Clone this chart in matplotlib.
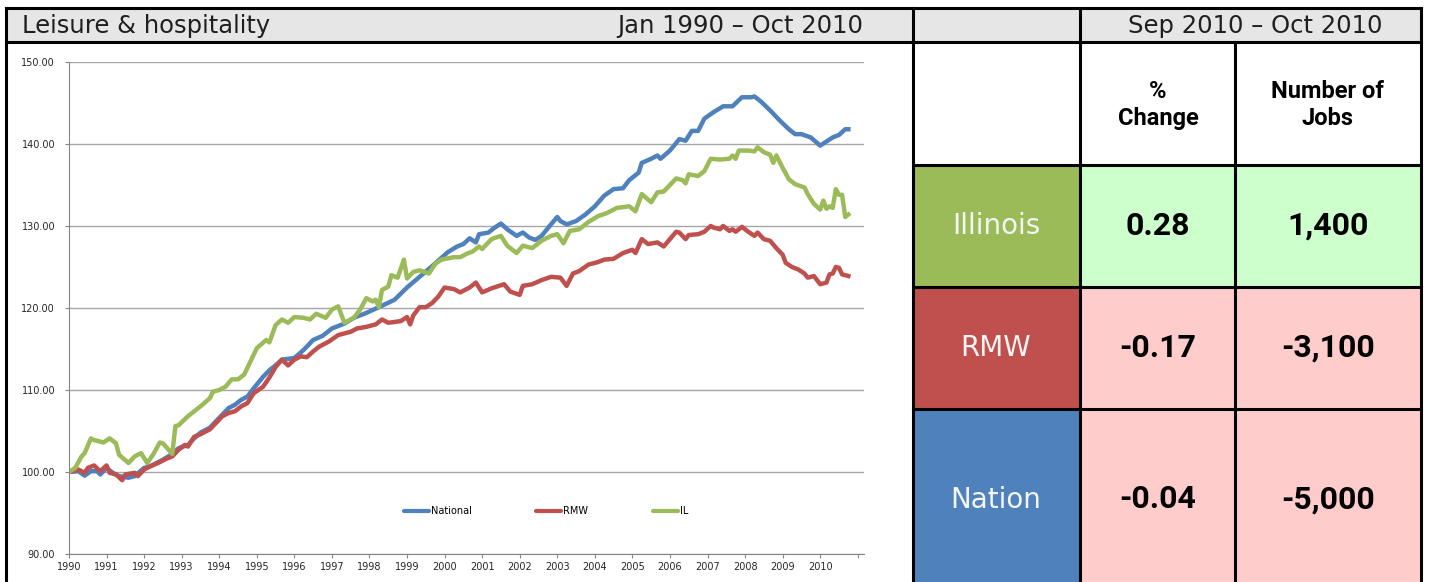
import matplotlib.pyplot as plt
from matplotlib.patches import Rectangle
from matplotlib.lines import Line2D

# ---- data (month index 0 = Jan 1990) ----
nat_month = [0, 3, 5, 7, 9, 10, 12, 14, 16, 19, 21, 24, 26, 30, 33, 35, 38, 40, 42, 45,
             47, 49, 51, 53, 55, 57, 59, 62, 64, 66, 68, 72, 75, 78, 81, 84, 88, 91, 95,
             99, 104, 108, 112, 116, 121, 124, 126, 128, 130, 131, 134, 136, 138, 140,
             143, 145, 147, 149, 151, 154, 156, 157, 159, 162, 165, 168, 171, 174, 177,
             179, 182, 183, 186, 188, 189, 192, 195, 197, 199, 201, 203, 206, 209, 212,
             215, 218, 219, 221, 224, 227, 230, 232, 234, 237, 240, 242, 244, 246, 248, 249]
nat_val = [100.0, 100.1, 99.55, 100.1, 100.1, 99.7, 100.5, 99.9, 99.5, 99.3, 99.5, 100.5,
           100.7, 101.5, 102.2, 102.9, 103.3, 104.1, 104.8, 105.4, 106.2, 107.0, 107.8,
           108.2, 108.8, 109.2, 110.2, 111.6, 112.4, 113.0, 113.7, 113.9, 114.9, 116.1,
           116.6, 117.5, 118.1, 118.8, 119.4, 120.1, 121.0, 122.5, 123.8, 125.1, 126.8,
           127.5, 127.8, 128.5, 128.0, 129.0, 129.2, 129.8, 130.3, 129.6, 128.8, 129.2,
           128.6, 128.3, 128.8, 130.2, 131.1, 130.6, 130.2, 130.6, 131.4, 132.4, 133.7,
           134.5, 134.6, 135.6, 136.5, 137.7, 138.2, 138.6, 138.2, 139.2, 140.6, 140.4,
           141.6, 141.6, 143.1, 143.9, 144.6, 144.6, 145.7, 145.7, 145.8, 145.2, 144.1,
           142.9, 141.8, 141.2, 141.2, 140.8, 139.8, 140.3, 140.8, 141.1, 141.8, 141.8]

rmw_month = [0, 3, 5, 6, 8, 10, 12, 13, 15, 17, 18, 21, 22, 24, 26, 29, 31, 33, 35, 37,
             38, 40, 42, 45, 47, 49, 51, 53, 55, 57, 59, 62, 64, 66, 68, 70, 72, 74, 76,
             78, 80, 83, 86, 90, 92, 95, 98, 100, 102, 106, 108, 109, 110, 112, 114, 116,
             118, 120, 123, 125, 128, 130, 132, 135, 139, 141, 144, 145, 148, 151, 154,
             157, 159, 161, 163, 166, 169, 171, 174, 177, 180, 181, 183, 185, 188, 190,
             192, 194, 195, 197, 198, 201, 203, 205, 206, 208, 209, 211, 212, 213, 215,
             217, 219, 220, 222, 224, 226, 228, 229, 231, 233, 235, 236, 238, 240, 242,
             243, 244, 245, 246, 247, 249]
rmw_val = [100.0, 100.3, 99.9, 100.5, 100.8, 100.1, 100.8, 99.9, 99.7, 99.0, 99.7, 99.9,
           99.5, 100.3, 100.7, 101.2, 101.6, 101.9, 102.7, 103.3, 103.1, 104.3, 104.6,
           105.2, 106.0, 106.8, 107.2, 107.4, 108.0, 108.4, 109.6, 110.4, 111.5, 112.8,
           113.7, 113.0, 113.7, 114.1, 114.0, 114.7, 115.3, 115.9, 116.7, 117.1, 117.5,
           117.7, 118.0, 118.6, 118.2, 118.4, 118.9, 118.0, 119.1, 120.1, 120.1, 120.6,
           121.4, 122.5, 122.3, 121.9, 122.5, 123.1, 121.9, 122.4, 122.9, 122.0, 121.6,
           122.7, 122.9, 123.4, 123.8, 123.7, 122.7, 124.2, 124.5, 125.3, 125.6, 125.9,
           126.0, 126.7, 127.1, 126.7, 128.4, 127.8, 128.0, 127.5, 128.4, 129.3, 129.2,
           128.4, 128.9, 129.0, 129.3, 130.0, 129.8, 129.6, 130.0, 129.4, 129.6, 129.3,
           129.9, 129.3, 128.8, 129.2, 128.4, 128.2, 127.3, 126.5, 125.5, 125.0, 124.7,
           124.2, 123.7, 123.9, 122.9, 123.1, 124.1, 124.2, 125.0, 124.9, 124.1, 123.9]

il_month = [0, 2, 4, 5, 7, 8, 11, 13, 15, 16, 19, 21, 23, 25, 27, 29, 30, 33, 34, 35, 38,
            40, 42, 45, 46, 48, 50, 52, 54, 56, 58, 60, 63, 64, 66, 68, 70, 72, 75, 77,
            79, 82, 84, 86, 88, 91, 93, 95, 97, 98, 99, 100, 102, 103, 105, 107, 108, 110,
            112, 115, 117, 119, 123, 125, 127, 129, 131, 132, 135, 138, 140, 143, 145,
            148, 151, 154, 156, 158, 160, 163, 166, 169, 172, 175, 179, 181, 183, 186,
            188, 190, 192, 194, 196, 197, 198, 201, 203, 205, 208, 211, 212, 213, 214,
            217, 219, 220, 222, 224, 225, 226, 228, 230, 232, 235, 236, 238, 240, 241,
            242, 243, 244, 245, 246, 247, 248, 249]
il_val = [100.0, 100.5, 101.9, 102.3, 104.1, 103.9, 103.6, 104.1, 103.5, 102.1, 101.1,
          101.9, 102.3, 101.1, 102.2, 103.6, 103.5, 102.2, 105.6, 105.7, 106.8, 107.4,
          108.0, 109.0, 109.8, 110.0, 110.4, 111.3, 111.3, 111.9, 113.5, 115.1, 116.1,
          115.8, 117.9, 118.6, 118.2, 118.9, 118.8, 118.6, 119.3, 118.8, 119.8, 120.2,
          118.2, 118.8, 119.8, 121.2, 120.8, 121.0, 120.1, 122.2, 122.6, 124.0, 123.7,
          125.9, 123.6, 124.4, 124.6, 124.2, 125.4, 125.9, 126.2, 126.2, 126.6, 126.9,
          127.5, 127.2, 128.4, 128.8, 127.6, 126.7, 127.6, 127.3, 128.2, 128.8, 129.0,
          127.9, 129.4, 129.6, 130.5, 131.2, 131.6, 132.2, 132.4, 131.8, 133.9, 132.9,
          134.1, 134.2, 135.0, 135.8, 135.6, 135.2, 136.3, 136.1, 136.7, 138.2, 138.1,
          138.2, 138.6, 138.2, 139.2, 139.2, 139.1, 139.6, 139.0, 138.7, 137.7, 138.6,
          137.1, 135.7, 135.1, 134.7, 133.9, 132.7, 132.0, 133.1, 132.1, 132.4, 132.2,
          134.5, 133.8, 133.8, 131.1, 131.4]

years = list(range(1990, 2011))
yticks = [90, 100, 110, 120, 130, 140, 150]

regions = ['Illinois', 'RMW', 'Nation']
pct_change = [0.28, -0.17, -0.04]
num_jobs = [1400, -3100, -5000]

title_left = 'Leisure & hospitality'
period_left = 'Jan 1990 \u2013 Oct 2010'
period_right = 'Sep 2010 \u2013 Oct 2010'

# ---- figure / background panel in pixel coords ----
W, H = 1429, 582
fig = plt.figure(figsize=(W / 100, H / 100), dpi=100)
bg = fig.add_axes([0, 0, 1, 1])
bg.set_xlim(0, W)
bg.set_ylim(H, 0)
bg.axis('off')


def box(x0, y0, x1, y1, color):
    bg.add_patch(Rectangle((x0, y0), x1 - x0, y1 - y0, facecolor=color, edgecolor='none'))


def hline(y, x0, x1):
    bg.plot([x0, x1], [y, y], color='black', lw=2.2, solid_capstyle='projecting')


def vline(x, y0, y1):
    bg.plot([x, x], [y0, y1], color='black', lw=2.2, solid_capstyle='projecting')


box(6, 8, 1421, 42, '#E6E6E6')

label_colors = ['#9BBB59', '#C0504D', '#4F81BD']
cell_colors = ['#CCFFCC', '#FFCCCC', '#FFCCCC']
row_y = [165, 287, 409, 590]
for i in range(3):
    box(913, row_y[i], 1080, row_y[i + 1], label_colors[i])
    box(1080, row_y[i], 1421, row_y[i + 1], cell_colors[i])

hline(8, 6, 1421)
hline(42, 6, 1421)
for y in row_y[:3]:
    hline(y, 913, 1421)
vline(6, 8, 590)
vline(913, 8, 590)
vline(1080, 8, 590)
vline(1235, 42, 590)
vline(1421, 8, 590)

hdr = dict(fontsize=17.5, color='#1F1F1F', family='DejaVu Sans', va='center')
bg.text(22, 26, title_left, ha='left', **hdr)
bg.text(863, 26, period_left, ha='right', **hdr)
bg.text(1255, 26, period_right, ha='center', **hdr)

narrow = ['Roboto', 'DejaVu Sans']
bg.text(1158, 105, '%\nChange', ha='center', va='center', fontsize=17,
        family=narrow, fontweight='bold', linespacing=1.2)
bg.text(1328, 105, 'Number of\nJobs', ha='center', va='center', fontsize=17,
        family=narrow, fontweight='bold', linespacing=1.2)

for i, name in enumerate(regions):
    yc = (row_y[i] + row_y[i + 1]) / 2
    bg.text(996, yc, name, ha='center', va='center', fontsize=20,
            color='#F5F5F5', family='DejaVu Sans')
    bg.text(1158, yc, '{:.2f}'.format(pct_change[i]), ha='center', va='center',
            fontsize=23, family=narrow, fontweight='bold')
    bg.text(1328, yc, '{:,}'.format(num_jobs[i]), ha='center', va='center',
            fontsize=23, family=narrow, fontweight='bold')

# ---- line chart ----
ax = fig.add_axes([69 / W, (H - 554) / H, (864 - 69) / W, (554 - 62) / H])
ax.plot(nat_month, nat_val, color='#4F81BD', lw=3.2, label='National', solid_joinstyle='round')
ax.plot(rmw_month, rmw_val, color='#C0504D', lw=3.2, label='RMW', solid_joinstyle='round')
ax.plot(il_month, il_val, color='#9BBB59', lw=3.2, label='IL', solid_joinstyle='round')

ax.set_xlim(0, 254)
ax.set_ylim(90, 150)
ax.set_xticks(list(range(0, 253, 12)))
ax.set_xticklabels([str(y) for y in years] + [''])
ax.set_yticks(yticks)
ax.set_yticklabels(['%.2f' % v for v in yticks])
ax.grid(axis='y', color='#A6A6A6', lw=1)
ax.set_axisbelow(True)
for s in ['top', 'right']:
    ax.spines[s].set_visible(False)
for s in ['left', 'bottom']:
    ax.spines[s].set_color('#868686')
ax.tick_params(axis='both', colors='#868686', length=3, labelsize=7, labelcolor='#262626')
ax.tick_params(axis='y', pad=7)
ax.tick_params(axis='x', pad=3)

handles = [Line2D([], [], color=c, lw=3, solid_capstyle='round')
           for c in ['#4F81BD', '#C0504D', '#9BBB59']]
ax.legend(handles, ['National', 'RMW', 'IL'], loc='center', bbox_to_anchor=(0.600, 0.087),
          ncol=3, frameon=False, fontsize=7, handlelength=2.6, handletextpad=0.2,
          columnspacing=6.6)

fig.savefig('out.png', dpi=100)
